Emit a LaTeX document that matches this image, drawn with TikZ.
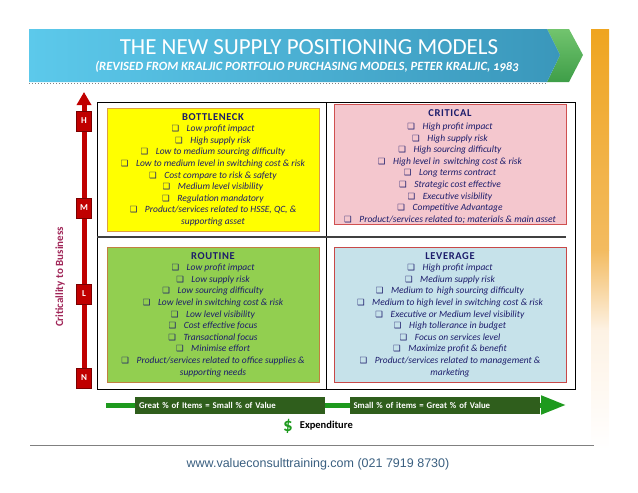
\documentclass[tikz,border=0pt]{standalone}
\usepackage{fontspec}
\setmainfont{Carlito}
\newfontfamily\dejavu{DejaVu Sans}
\newfontfamily\arialfont{Liberation Sans}
\usetikzlibrary{positioning,shapes,arrows.meta}

\definecolor{bannerL}{HTML}{5CC9EB}
\definecolor{bannerR}{HTML}{3A97BB}
\definecolor{chevT}{HTML}{72C46E}
\definecolor{chevB}{HTML}{3E9E48}
\definecolor{barTop}{HTML}{EFA520}
\definecolor{barMid}{HTML}{F3BB60}
\definecolor{barLow}{HTML}{FDF2E4}
\definecolor{axisred}{HTML}{C00000}
\definecolor{axisdark}{HTML}{7A0000}
\definecolor{critred}{HTML}{A02658}
\definecolor{navy}{HTML}{1C1C6B}
\definecolor{bnfill}{HTML}{FFFF00}
\definecolor{bnline}{HTML}{DDA040}
\definecolor{crfill}{HTML}{F4C7CE}
\definecolor{crline}{HTML}{D05050}
\definecolor{rtfill}{HTML}{92CF50}
\definecolor{rtline}{HTML}{C08040}
\definecolor{lvfill}{HTML}{C6E2EA}
\definecolor{lvline}{HTML}{C84848}
\definecolor{exgreen}{HTML}{1E9A1E}
\definecolor{exdark}{HTML}{2F5E1C}
\definecolor{footblue}{HTML}{3A5F80}

\newcommand{\chk}{{\dejavu\fontsize{8.5}{8.5}\selectfont ❑}\hspace{0.8em}}
\newcommand{\itm}[1]{\chk\textit{#1}}
\newcommand{\qhead}[1]{{\bfseries\fontsize{10.5}{11.6}\selectfont\addfontfeature{LetterSpace=6}#1}}

\begin{document}
\begin{tikzpicture}[x=1pt,y=-1pt,
  quad/.style={rectangle, line width=0.8pt, inner sep=0pt, anchor=north west},
  quadtxt/.style={anchor=north, inner sep=0pt, align=center, text=navy,
    font=\fontsize{9.5}{11.6}\selectfont},
  lvl/.style={rectangle, fill=axisred, draw=axisdark, line width=0.6pt,
    minimum width=15pt, minimum height=20pt, inner sep=0pt, text=white,
    font=\bfseries\fontsize{9}{9}\selectfont},
  exlabel/.style={fill=exdark, text=white, minimum height=17pt, inner sep=4pt,
    text width=182pt, align=left, font=\bfseries\fontsize{8.8}{9}\selectfont}]
\useasboundingbox (0,0) rectangle (638,493);

% banner
\shade[top color=chevT, bottom color=chevB] (547,29) -- (569,29) -- (583,55) -- (569,82) -- (547,82) -- (560,55) -- cycle;
\shade[left color=bannerL, right color=bannerR] (29,29) -- (547,29) -- (560,55) -- (547,82) -- (29,82) -- cycle;
\draw[gray, dotted, line width=1pt] (29,83) -- (547,83);
\node[text=white, font=\fontsize{23}{24}\selectfont] (title) at (309,47) {THE NEW SUPPLY POSITIONING MODELS};
\node[text=white, font=\bfseries\itshape\fontsize{12.6}{14}\selectfont] (subtitle) at (307,67)
  {(REVISED FROM KRALJIC PORTFOLIO PURCHASING MODELS, PETER KRALJIC, {\addfontfeature{Numbers=OldStyle}1983}};

% side bar
\shade[top color=barTop, bottom color=barMid] (591,29) rectangle (609,250);
\shade[top color=barMid, bottom color=barLow] (591,250) rectangle (609,330);
\shade[top color=barLow, bottom color=white] (591,330) rectangle (609,450);

% matrix frame
\node[quad, draw=black, line width=1pt, minimum width=478pt, minimum height=287pt] (frame) at (97,102) {};
\draw[line width=1pt] (326,102) -- (326,389);
\draw[line width=1.5pt, black!75] (97,237) -- (566,237);

% quadrants
\node[quad, fill=bnfill, draw=bnline, minimum width=212pt, minimum height=123pt] (bottleneck) at (107,108) {};
\node[quad, fill=crfill, draw=crline, minimum width=232pt, minimum height=120pt] (critical) at (334,104) {};
\node[quad, fill=rtfill, draw=rtline, minimum width=212pt, minimum height=135pt] (routine) at (107,247) {};
\node[quad, fill=lvfill, draw=lvline, minimum width=232pt, minimum height=135pt] (leverage) at (334,247) {};

\node[quadtxt] (bottlenecktxt) at (213,113) {%
  \qhead{BOTTLENECK}\\
  \itm{Low profit impact}\\
  \itm{High supply risk}\\
  \itm{Low to medium sourcing difficulty}\\
  \itm{Low to medium level in switching cost \& risk}\\
  \itm{Cost compare to risk \& safety}\\
  \itm{Medium level visibility}\\
  \itm{Regulation mandatory}\\
  \itm{Product/services related to HSSE, QC, \&}\\
  \textit{supporting asset}};

\node[quadtxt] (criticaltxt) at (450,109.5) {%
  \qhead{CRITICAL}\\[1.4pt]
  \itm{High profit impact}\\
  \itm{High supply risk}\\
  \itm{High sourcing difficulty}\\
  \itm{High level in\, switching cost \& risk}\\
  \itm{Long terms contract}\\
  \itm{Strategic cost effective}\\
  \itm{Executive visibility}\\
  \itm{Competitive Advantage}\\
  \itm{Product/services related to; materials \& main asset}};

\node[quadtxt] (routinetxt) at (213,252) {%
  \qhead{ROUTINE}\\
  \itm{Low profit impact}\\
  \itm{Low supply risk}\\
  \itm{Low sourcing difficulty}\\
  \itm{Low level in switching cost \& risk}\\
  \itm{Low level visibility}\\
  \itm{Cost effective focus}\\
  \itm{Transactional focus}\\
  \itm{Minimise effort}\\
  \itm{Product/services related to office supplies \&}\\
  \textit{supporting needs}};

\node[quadtxt] (leveragetxt) at (450,252) {%
  \qhead{LEVERAGE}\\
  \itm{High profit impact}\\
  \itm{Medium supply risk}\\
  \itm{Medium to\, high sourcing difficulty}\\
  \itm{Medium to high level in switching cost \& risk}\\
  \itm{Executive or Medium level visibility}\\
  \itm{High tollerance in budget}\\
  \itm{Focus on services level}\\
  \itm{Maximize profit \& benefit}\\
  \itm{Product/services related to management \&}\\
  \textit{marketing}};

% criticality axis
\coordinate (axbot) at (84,389);
\coordinate (axtop) at (84,92);
\draw[-{Triangle[length=13pt,width=14pt]}, line width=5pt, axisred] (axbot) -- (axtop);
\node[lvl] (H) at (84,121) {H};
\node[lvl] (M) at (84,208) {M};
\node[lvl] (L) at (84,294) {L};
\node[lvl] (N) at (84,378) {N};
\node[rotate=90, text=critred, font=\bfseries\fontsize{11}{12}\selectfont] (critlabel) at (60,277) {Criticallity to Business};

% expenditure axis
\coordinate (exstart) at (106,405);
\coordinate (exend) at (566,405);
\draw[-{Triangle[length=25pt,width=18pt]}, line width=5pt, exgreen] (exstart) -- (exend);
\node[exlabel] (fewvalue) at (230,405.5) {Great \% of Items = Small \% of Value};
\node[exlabel] (manyvalue) at (444.5,405.5) {Small \% of items = Great \% of Value};
\node[text=exgreen, font=\bfseries\fontsize{19}{19}\selectfont] (dollar) at (288,426) {\$};
\node[right=0pt of dollar, font=\bfseries\fontsize{10.5}{11}\selectfont] (expend) {Expenditure};

% footer
\draw[gray, line width=1pt] (30,445) -- (594,445);
\node[text=footblue, font=\arialfont\fontsize{12.5}{13}\selectfont] (footer) at (318,464) {www.valueconsulttraining.com (021 7919 8730)};
\end{tikzpicture}
\end{document}
